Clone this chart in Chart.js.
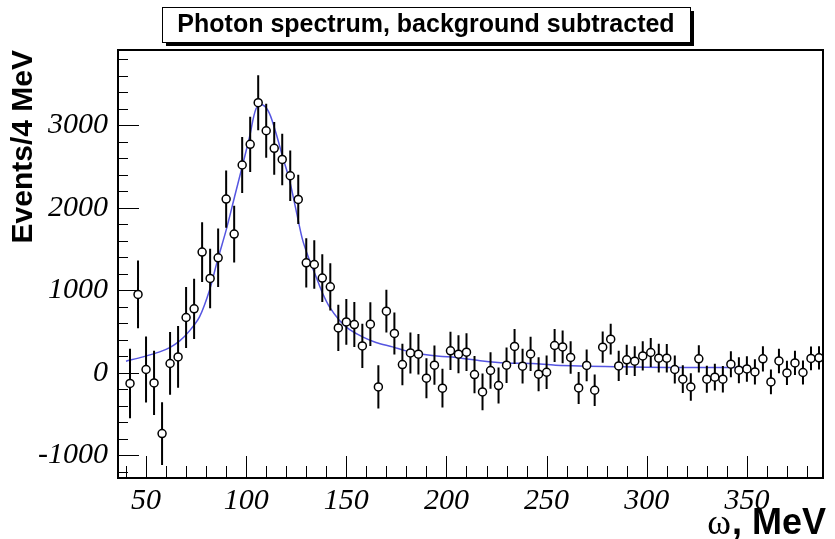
<!DOCTYPE html>
<html>
<head>
<meta charset="utf-8">
<script src="https://cdn.jsdelivr.net/npm/chart.js@4.4.1/dist/chart.umd.min.js"></script>
<style>
  html, body { margin: 0; padding: 0; background: #fff; }
  #wrap { width: 835px; height: 539px; }
</style>
</head>
<body>
<div id="wrap"><canvas id="chart" width="835" height="539"></canvas></div>
<script>
// bin centres, MeV (4 MeV bins)
const energies = [42, 46, 50, 54, 58, 62, 66, 70, 74, 78, 82, 86, 90, 94, 98, 102, 106, 110, 114, 118,
  122, 126, 130, 134, 138, 142, 146, 150, 154, 158, 162, 166, 170, 174, 178, 182, 186, 190, 194, 198,
  202, 206, 210, 214, 218, 222, 226, 230, 234, 238, 242, 246, 250, 254, 258, 262, 266, 270, 274, 278,
  282, 286, 290, 294, 298, 302, 306, 310, 314, 318, 322, 326, 330, 334, 338, 342, 346, 350, 354, 358,
  362, 366, 370, 374, 378, 382, 386];

const counts = [-128, 950, 41, -121, -735, 114, 194, 671, 776, 1463, 1144, 1394, 2105, 1681, 2518, 2768, 3273, 2933, 2720, 2586,
  2388, 2101, 1333, 1313, 1148, 1042, 545, 618, 586, 327, 590, -170, 748, 478, 101, 242, 227, -64, 93, -185,
  267, 227, 251, -20, -230, 29, -153, 93, 320, 81, 230, -16, 8, 332, 315, 187, -182, 90, -210, 312,
  408, 85, 158, 142, 206, 247, 178, 178, 41, -76, -170, 170, -76, -52, -76, 105, 33, 48, 12, 170,
  -109, 145, 0, 121, 5, 175, 182];

const errors = [420, 410, 400, 390, 380, 380, 375, 370, 365, 362, 360, 355, 348, 345, 340, 336, 333, 328, 320, 312,
  305, 298, 298, 295, 290, 285, 280, 276, 272, 268, 265, 262, 258, 255, 252, 248, 245, 242, 238, 235,
  232, 230, 228, 225, 222, 220, 218, 215, 212, 210, 208, 205, 203, 200, 198, 196, 194, 192, 190, 188,
  186, 184, 182, 180, 178, 176, 174, 172, 170, 168, 166, 165, 163, 162, 160, 158, 157, 155, 154, 152,
  150, 149, 148, 146, 145, 144, 142];

// fitted curve
const fitX = [40, 48.5, 56.8, 61.8, 66.8, 71.7, 76.7, 81.7, 85.7, 90, 94.2, 98, 101.7, 105, 108.3, 111.6, 114.9, 118.2, 121.6, 124.9,
  128.2, 131.6, 134.9, 138.2, 141.6, 146.5, 151.5, 158.1, 164.8, 173.1, 179.8, 188.1, 196.4, 204.7, 218, 229.6, 242.9, 254.5, 287.7, 311, 350];
const fitY = [142, 194, 255, 307, 388, 509, 679, 1002, 1366, 1729, 2133, 2497, 2861, 3205, 3245, 3144, 2902, 2618, 2336, 1972,
  1608, 1366, 1164, 962, 800, 639, 526, 436, 368, 315, 267, 227, 202, 187, 145, 121, 114, 93, 73, 65, 65];

const xTicks = [50, 100, 150, 200, 250, 300, 350];
const yTicks = [-1000, 0, 1000, 2000, 3000];
const xMinorStep = 10;
const yMinorStep = 200;

const titleText = 'Photon spectrum, background subtracted';
const yTitle = 'Events/4 MeV';

const points = energies.map((e, i) => ({ x: e, y: counts[i] }));
const fit = fitX.map((e, i) => ({ x: e, y: fitY[i] }));

// ROOT-like frame: ticks inside, error bars, title box, x title
const rootStyle = {
  id: 'rootStyle',
  beforeDatasetDraw(chart, args) {
    if (args.index !== 0) return;
    const { ctx, chartArea, scales } = chart;
    ctx.save();
    ctx.beginPath();
    ctx.rect(chartArea.left, chartArea.top, chartArea.right - chartArea.left, chartArea.bottom - chartArea.top);
    ctx.clip();
    ctx.strokeStyle = '#000';
    ctx.lineWidth = 2;
    ctx.beginPath();
    energies.forEach((e, i) => {
      const px = scales.x.getPixelForValue(e);
      ctx.moveTo(px, scales.y.getPixelForValue(counts[i] - errors[i]));
      ctx.lineTo(px, scales.y.getPixelForValue(counts[i] + errors[i]));
    });
    ctx.stroke();
    ctx.restore();
  },
  afterDraw(chart) {
    const { ctx, chartArea: a, scales } = chart;
    const x = scales.x, y = scales.y;
    ctx.save();
    ctx.strokeStyle = '#000';
    // ticks, inside the frame
    ctx.lineWidth = 1;
    ctx.beginPath();
    for (let v = Math.ceil(x.min / xMinorStep) * xMinorStep; v <= x.max; v += xMinorStep) {
      const px = Math.round(x.getPixelForValue(v)) + 0.5;
      const len = xTicks.includes(v) ? 22 : 12;
      ctx.moveTo(px, a.bottom);
      ctx.lineTo(px, a.bottom - len);
    }
    for (let v = Math.ceil(y.min / yMinorStep) * yMinorStep; v <= y.max; v += yMinorStep) {
      const py = Math.round(y.getPixelForValue(v)) + 0.5;
      const len = yTicks.includes(v) ? 21 : 10;
      ctx.moveTo(a.left, py);
      ctx.lineTo(a.left + len, py);
    }
    ctx.stroke();
    // frame
    ctx.lineWidth = 2;
    ctx.strokeRect(a.left, a.top, a.right - a.left, a.bottom - a.top);

    // title box with shadow
    const bx = 162, by = 7, bw = 528, bh = 35;
    ctx.fillStyle = '#000';
    ctx.fillRect(bx + 4, by + 4, bw, bh);
    ctx.fillStyle = '#fff';
    ctx.fillRect(bx, by, bw, bh);
    ctx.lineWidth = 1;
    ctx.strokeRect(bx + 0.5, by + 0.5, bw, bh);
    ctx.fillStyle = '#000';
    ctx.font = 'bold 25px "Liberation Sans", Arial, sans-serif';
    ctx.textAlign = 'center';
    ctx.textBaseline = 'middle';
    ctx.fillText(titleText, bx + bw / 2, by + bh / 2 + 1);

    // x axis title: omega in serif, rest in bold sans
    ctx.textBaseline = 'alphabetic';
    ctx.textAlign = 'left';
    const rest = ', MeV';
    ctx.font = 'bold 36px "Liberation Sans", Arial, sans-serif';
    const wRest = ctx.measureText(rest).width;
    ctx.font = '36px "Liberation Serif", "Times New Roman", serif';
    const wOm = ctx.measureText('\u03c9').width;
    const right = 826;
    ctx.fillText('\u03c9', right - wRest - wOm - 1, 534);
    ctx.font = 'bold 36px "Liberation Sans", Arial, sans-serif';
    ctx.fillText(rest, right - wRest, 534);
    ctx.restore();
  }
};

const tickFont = { family: '"Liberation Serif", "Times New Roman", serif', style: 'italic', size: 30 };

new Chart(document.getElementById('chart'), {
  type: 'scatter',
  data: {
    datasets: [
      {
        label: 'data',
        data: points,
        order: 0,
        pointStyle: 'circle',
        pointRadius: 4,
        pointBackgroundColor: '#fff',
        pointBorderColor: '#000',
        pointBorderWidth: 1.5,
        showLine: false
      },
      {
        label: 'fit',
        data: fit,
        order: 1,
        showLine: true,
        pointRadius: 0,
        borderColor: 'rgb(85, 85, 225)',
        borderWidth: 1.5,
        tension: 0.3
      }
    ]
  },
  options: {
    responsive: false,
    animation: false,
    events: [],
    layout: { padding: { top: 50, right: 12, left: 0, bottom: 0 } },
    plugins: { legend: { display: false }, tooltip: { enabled: false } },
    scales: {
      x: {
        type: 'linear',
        min: 36,
        max: 388,
        grid: { display: false },
        border: { display: false },
        afterBuildTicks: s => { s.ticks = xTicks.map(v => ({ value: v })); },
        afterFit: s => { s.height = 61; },
        ticks: { font: tickFont, color: '#000', padding: -3, maxRotation: 0, autoSkip: false, callback: v => String(v) }
      },
      y: {
        type: 'linear',
        min: -1273,
        max: 3911,
        grid: { display: false },
        border: { display: false },
        afterBuildTicks: s => { s.ticks = yTicks.map(v => ({ value: v })); },
        afterFit: s => { s.width = 118; },
        ticks: { font: tickFont, color: '#000', padding: 2, autoSkip: false, callback: v => String(v) },
        title: {
          display: true,
          text: yTitle,
          align: 'end',
          color: '#000',
          font: { family: '"Liberation Sans", Arial, sans-serif', weight: 'bold', size: 30 },
          padding: { top: 6, bottom: 0 }
        }
      }
    }
  },
  plugins: [rootStyle]
});
</script>
</body>
</html>
